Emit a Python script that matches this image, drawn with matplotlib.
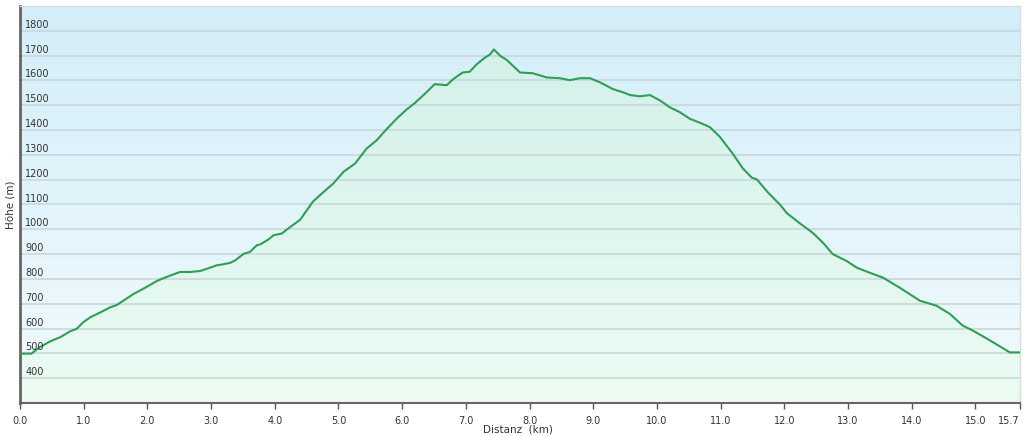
import numpy as np
import matplotlib
matplotlib.use("Agg")
import matplotlib.pyplot as plt
from matplotlib.colors import LinearSegmentedColormap
from matplotlib.patches import Polygon

# ---- data (distance km, elevation m) ----
distance_km = [0.00, 0.18, 0.31, 0.47, 0.63, 0.78, 0.89, 0.99, 1.10, 1.26, 1.41, 1.52,
               1.62, 1.78, 1.99, 2.15, 2.30, 2.51, 2.67, 2.83, 2.98, 3.09, 3.19, 3.30,
               3.38, 3.51, 3.61, 3.72, 3.77, 3.90, 3.98, 4.11, 4.21, 4.40, 4.60, 4.76,
               4.92, 5.08, 5.26, 5.44, 5.60, 5.76, 5.91, 6.07, 6.20, 6.38, 6.51, 6.70,
               6.80, 6.95, 7.06, 7.17, 7.30, 7.38, 7.44, 7.54, 7.64, 7.74, 7.85, 8.05,
               8.27, 8.48, 8.63, 8.79, 8.95, 9.11, 9.31, 9.47, 9.58, 9.73, 9.89, 10.05,
               10.20, 10.36, 10.52, 10.68, 10.83, 10.99, 11.07, 11.19, 11.35, 11.49, 11.57,
               11.73, 11.93, 12.04, 12.24, 12.45, 12.61, 12.76, 12.98, 13.14, 13.34, 13.55,
               13.81, 14.13, 14.39, 14.60, 14.80, 14.96, 15.23, 15.49, 15.54, 15.70]
elevation_m = [499, 499, 525, 548, 565, 588, 599, 625, 645, 665, 685, 695,
               712, 739, 768, 792, 808, 828, 828, 832, 845, 855, 859, 865,
               875, 901, 909, 936, 939, 959, 976, 983, 1003, 1039, 1112, 1149,
               1185, 1232, 1265, 1325, 1359, 1405, 1445, 1483, 1509, 1552, 1585, 1581,
               1605, 1632, 1635, 1665, 1692, 1705, 1725, 1699, 1683, 1659, 1632, 1629,
               1612, 1609, 1601, 1609, 1609, 1592, 1565, 1552, 1541, 1536, 1541, 1519,
               1492, 1472, 1445, 1429, 1412, 1372, 1345, 1305, 1245, 1208, 1201,
               1152, 1100, 1065, 1025, 985, 945, 900, 872, 845, 825, 805,
               765, 712, 692, 659, 612, 592, 552, 512, 504, 504]

y_ticks = [400, 500, 600, 700, 800, 900, 1000, 1100, 1200, 1300, 1400, 1500, 1600, 1700, 1800]
x_ticks = [0.0, 1.0, 2.0, 3.0, 4.0, 5.0, 6.0, 7.0, 8.0, 9.0, 10.0, 11.0, 12.0, 13.0, 14.0, 15.0, 15.7]
x_tick_labels = ["0.0", "1.0", "2.0", "3.0", "4.0", "5.0", "6.0", "7.0", "8.0", "9.0",
                 "10.0", "11.0", "12.0", "13.0", "14.0", "15.0", "15.7"]
x_label = "Distanz  (km)"
y_label = "Höhe (m)"

W, H = 1024, 436
fig = plt.figure(figsize=(W / 100, H / 100), dpi=100)
ax = fig.add_axes([20 / W, (H - 403) / H, 1000 / W, 397 / H])
xmin, xmax, ymin, ymax = 0, 15.7, 300, 1900
ax.set_xlim(xmin, xmax)
ax.set_ylim(ymin, ymax)

# background gradient (light blue top -> near white bottom)
bg = LinearSegmentedColormap.from_list("bg", ["#f3fbfd", "#e2f4fb", "#d3eef9"])
grad = np.linspace(0, 1, 256).reshape(-1, 1)
ax.imshow(grad, extent=[xmin, xmax, ymin, ymax], origin="lower", aspect="auto",
          cmap=bg, zorder=0, interpolation="bicubic")

# green fill under curve with gradient
fillmap = LinearSegmentedColormap.from_list("fill", ["#ecfcf3", "#dff6ee", "#d3f1ea"])
im = ax.imshow(grad, extent=[xmin, xmax, ymin, 1750], origin="lower", aspect="auto",
               cmap=fillmap, zorder=1, interpolation="bicubic")
poly_pts = [(xmin, ymin)] + list(zip(distance_km, elevation_m)) + [(distance_km[-1], ymin)]
poly = Polygon(poly_pts, closed=True, transform=ax.transData, facecolor="none", edgecolor="none")
ax.add_patch(poly)
im.set_clip_path(poly)

# gridlines and inside labels
for yv in y_ticks:
    ax.axhline(yv, color="#c6d5db", lw=1.1, zorder=2)
    ax.text(0.08, yv + 24, str(yv), fontsize=7, color="#333333", va="center", ha="left",
            zorder=5)

ax.plot(distance_km, elevation_m, color="#2f9e57", lw=1.5, zorder=4, solid_joinstyle="round")

ax.set_yticks([])
ax.set_xticks(x_ticks)
ax.set_xticklabels(x_tick_labels, fontsize=7, color="#333333")
ax.tick_params(axis="x", direction="out", length=4, width=1, color="#555555", pad=5)
ax.get_xticklabels()[-1].set_horizontalalignment("right")

for side in ["top", "right"]:
    ax.spines[side].set_color("#d8dcde")
    ax.spines[side].set_linewidth(1)
ax.spines["left"].set_color("#666666")
ax.spines["left"].set_linewidth(2)
ax.spines["bottom"].set_color("#666666")
ax.spines["bottom"].set_linewidth(1.5)

fig.text(518 / W, 1 - 429 / H, x_label, fontsize=7.5, color="#333333", ha="center", va="center")
fig.text(11 / W, 1 - 205 / H, y_label, fontsize=7.5, color="#333333", ha="center", va="center",
         rotation=90)

fig.savefig("out.png", dpi=100)
